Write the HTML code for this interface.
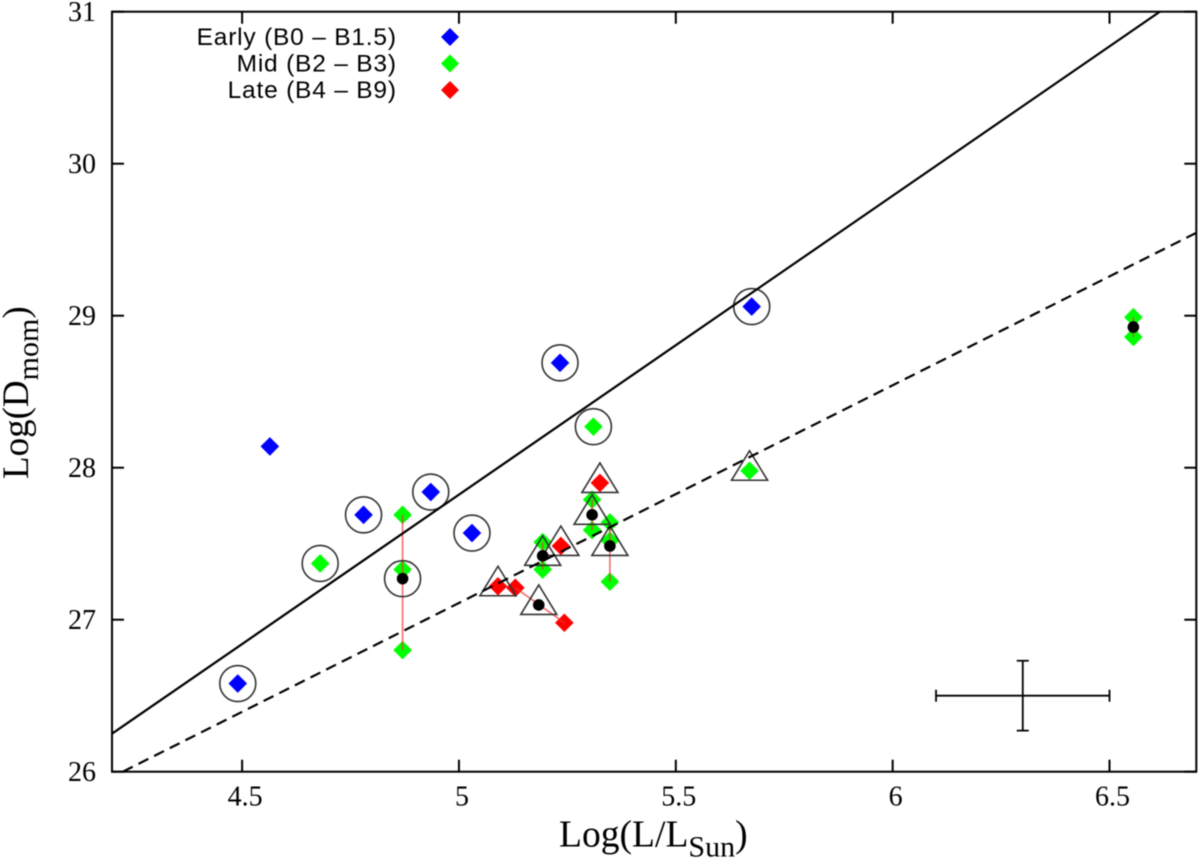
<!DOCTYPE html>
<html lang="en">
<head>
<meta charset="utf-8">
<title>Log(Dmom) vs Log(L/LSun)</title>
<style>
html,body{margin:0;padding:0;background:#fff;width:1200px;height:860px;overflow:hidden}
svg{display:block;filter:blur(0.45px)}
.serif{font-family:"Liberation Serif",serif;fill:#000}
.sans{font-family:"Liberation Sans",sans-serif;fill:#000}
</style>
</head>
<body>
<svg id="chart" width="1200" height="860" viewBox="0 0 1200 860" xmlns="http://www.w3.org/2000/svg">
  <rect x="112" y="11.7" width="1084.3" height="760" fill="none" stroke="#000" stroke-width="2"/>
  <g id="ticks"></g>
  <g id="marks"></g>
  <text class="serif" x="559" y="846.7" font-size="37.6">Log(L/L<tspan font-size="30" dy="10">Sun</tspan><tspan dy="-10">)</tspan></text>
  <text class="serif" transform="translate(28,479) rotate(-90)" font-size="37">Log(D<tspan font-size="30" dy="10">mom</tspan><tspan dy="-10">)</tspan></text>
  <g font-size="24.5" letter-spacing="0.8">
    <text class="sans" x="396.8" y="45" text-anchor="end">Early (B0 – B1.5)</text>
    <text class="sans" x="396.8" y="71.5" text-anchor="end">Mid (B2 – B3)</text>
    <text class="sans" x="396.8" y="98" text-anchor="end">Late (B4 – B9)</text>
    <polygon points="450,28 459,37 450,46 441,37" fill="#0000ff"/>
    <polygon points="450,54.5 459,63.5 450,72.5 441,63.5" fill="#00ff00"/>
    <polygon points="450,81 459,90 450,99 441,90" fill="#ff0000"/>
  </g>
</svg>
<script>
const xTicks = [4.5, 5, 5.5, 6, 6.5];
const xTickLabels = ["4.5", "5", "5.5", "6", "6.5"];
const yTicks = [26, 27, 28, 29, 30, 31];
const yTickLabels = ["26", "27", "28", "29", "30", "31"];

const earlyX = [4.49, 4.564, 4.78, 4.935, 5.03, 5.233, 5.675];
const earlyY = [26.58, 28.14, 27.69, 27.84, 27.57, 28.69, 29.06];
const midX = [4.68, 4.87, 4.87, 4.87, 5.193, 5.193, 5.307, 5.307, 5.348, 5.348, 5.348, 5.31, 5.67, 6.555, 6.555];
const midY = [27.37, 27.69, 27.33, 26.8, 27.51, 27.33, 27.79, 27.59, 27.64, 27.52, 27.25, 28.27, 27.98, 28.99, 28.86];
const lateX = [5.325, 5.235, 5.09, 5.13, 5.243];
const lateY = [27.9, 27.485, 27.22, 27.21, 26.98];
const meanX = [4.87, 5.193, 5.307, 5.348, 5.184, 6.555];
const meanY = [27.27, 27.42, 27.69, 27.485, 27.097, 28.925];
const circledX = [4.49, 4.78, 4.935, 5.03, 5.233, 5.675, 4.68, 4.87, 5.31];
const circledY = [26.58, 27.69, 27.84, 27.57, 28.69, 29.06, 27.37, 27.27, 28.27];
const triangleX = [5.325, 5.307, 5.348, 5.235, 5.193, 5.09, 5.184, 5.67];
const triangleY = [27.9, 27.69, 27.485, 27.485, 27.42, 27.22, 27.097, 27.98];
const linkX1 = [4.87, 5.193, 5.307, 5.348, 5.13, 6.555];
const linkY1 = [27.69, 27.51, 27.79, 27.64, 27.21, 28.99];
const linkX2 = [4.87, 5.193, 5.307, 5.348, 5.243, 6.555];
const linkY2 = [26.8, 27.33, 27.59, 27.25, 26.98, 28.86];
const fitSolidX = [4.2, 6.616];
const fitSolidY = [26.25, 31];
const fitDashedX = [4.225, 6.7];
const fitDashedY = [26, 29.545];
const errorCenterX = [6.3];
const errorCenterY = [26.5];
const errorHalfX = [0.2];
const errorHalfY = [0.23];

const NS = "http://www.w3.org/2000/svg";
const xScale = v => 112 + (v - 4.2) * 433.7;
const yScale = v => 771.7 - (v - 26) * 152;
const ticksG = document.getElementById("ticks");
const marksG = document.getElementById("marks");

function make(tag, attrs, parent) {
  const el = document.createElementNS(NS, tag);
  for (const k in attrs) el.setAttribute(k, attrs[k]);
  parent.appendChild(el);
  return el;
}

xTicks.forEach((v, i) => {
  const x = xScale(v);
  const b = make("line", {x1: x, x2: x, y1: 771.7, y2: 759.7, stroke: "#000", "stroke-width": 2}, ticksG);
  
  
  const t = make("line", {x1: x, x2: x, y1: 11.7, y2: 23.7, stroke: "#000", "stroke-width": 2}, ticksG);
  
  
  const l = make("text", {x: x + 3, y: 805.7, "text-anchor": "middle", "font-size": 28, class: "serif"}, ticksG);
  l.textContent = xTickLabels[i];
  
  
});

yTicks.forEach((v, i) => {
  const y = yScale(v);
  const a = make("line", {x1: 112, x2: 124, y1: y, y2: y, stroke: "#000", "stroke-width": 2}, ticksG);
  
  
  const c = make("line", {x1: 1196.3, x2: 1184.3, y1: y, y2: y, stroke: "#000", "stroke-width": 2}, ticksG);
  
  
  const l = make("text", {x: 96, y: y + 9.3, "text-anchor": "end", "font-size": 28, class: "serif"}, ticksG);
  l.textContent = yTickLabels[i];
  
  
});

function diamonds(xs, ys, color, name) {
  xs.forEach((v, i) => {
    const cx = xScale(v), cy = yScale(ys[i]), s = 9.3;
    const p = make("polygon", {points: `${cx},${cy - s} ${cx + s},${cy} ${cx},${cy + s} ${cx - s},${cy}`, fill: color}, marksG);
    
    
  });
}
diamonds(midX, midY, "#00ff00", "point-mid");
diamonds(earlyX, earlyY, "#0000ff", "point-early");
diamonds(lateX, lateY, "#ff0000", "point-late");

linkX1.forEach((v, i) => {
  const ln = make("line", {x1: xScale(v), y1: yScale(linkY1[i]), x2: xScale(linkX2[i]), y2: yScale(linkY2[i]), stroke: "#f03030", "stroke-opacity": 0.75, "stroke-width": 1.5}, marksG);
  
  
});

triangleX.forEach((v, i) => {
  const cx = xScale(v), cy = yScale(triangleY[i]);
  const p = make("polygon", {points: `${cx},${cy - 20} ${cx + 18},${cy + 9.5} ${cx - 18},${cy + 9.5}`, fill: "none", stroke: "#333", "stroke-width": 1.6}, marksG);
  
  
});

circledX.forEach((v, i) => {
  const c = make("circle", {cx: xScale(v), cy: yScale(circledY[i]), r: 18, fill: "none", stroke: "#333", "stroke-width": 1.6}, marksG);
  
  
});

meanX.forEach((v, i) => {
  const c = make("circle", {cx: xScale(v), cy: yScale(meanY[i]), r: 5.8, fill: "#000"}, marksG);
  
  
});

const solid = make("line", {x1: xScale(fitSolidX[0]), y1: yScale(fitSolidY[0]), x2: xScale(fitSolidX[1]), y2: yScale(fitSolidY[1]), stroke: "#000", "stroke-width": 2.2}, marksG);


const dashed = make("line", {x1: xScale(fitDashedX[0]), y1: yScale(fitDashedY[0]), x2: xScale(fitDashedX[1]), y2: yScale(fitDashedY[1]), stroke: "#000", "stroke-width": 2.2, "stroke-dasharray": "11 6.5"}, marksG);



const ex = xScale(errorCenterX[0]), ey = yScale(errorCenterY[0]);
const exL = xScale(errorCenterX[0] - errorHalfX[0]), exR = xScale(errorCenterX[0] + errorHalfX[0]);
const eyT = yScale(errorCenterY[0] + errorHalfY[0]), eyB = yScale(errorCenterY[0] - errorHalfY[0]);
const errH = make("path", {d: `M${exL},${ey}H${exR}M${exL},${ey - 6}V${ey + 6}M${exR},${ey - 6}V${ey + 6}`, fill: "none", stroke: "#000", "stroke-width": 1.8}, marksG);


const errV = make("path", {d: `M${ex},${eyT}V${eyB}M${ex - 6},${eyT}H${ex + 6}M${ex - 6},${eyB}H${ex + 6}`, fill: "none", stroke: "#000", "stroke-width": 1.8}, marksG);


</script>
</body>
</html>
